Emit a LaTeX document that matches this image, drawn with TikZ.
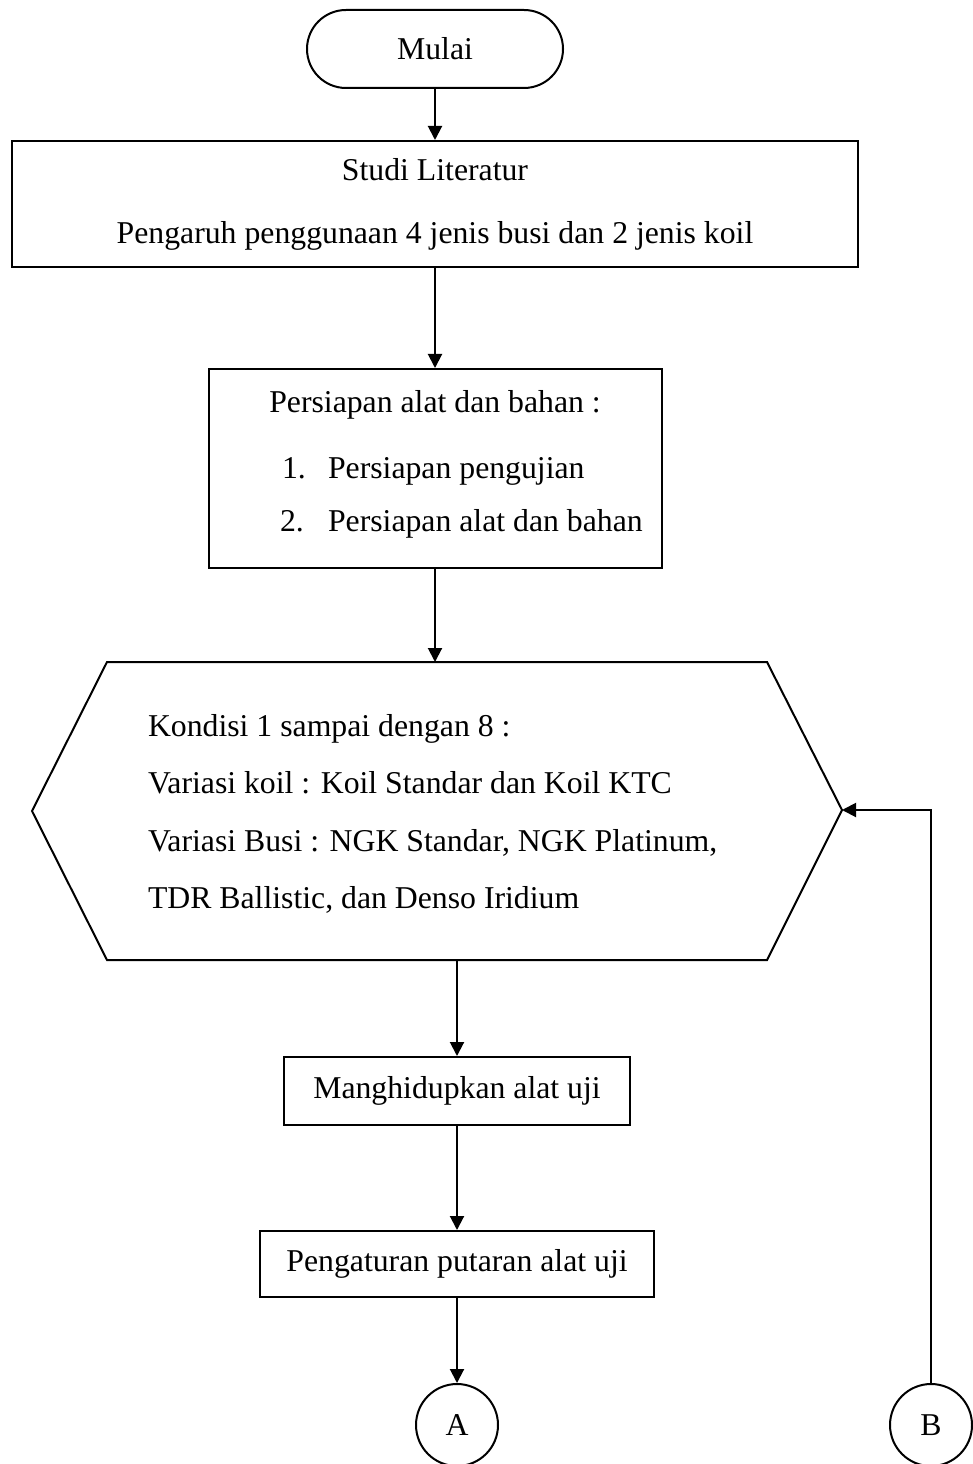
\documentclass[tikz,border=0pt]{standalone}
\usepackage{fontspec}
\setmainfont{Liberation Serif}
\usetikzlibrary{arrows.meta}
\begin{document}
\begin{tikzpicture}[x=0.4pt,y=-0.4pt,
  line width=0.8pt,
  txt/.style={font=\fontsize{12.7}{15}\selectfont, inner sep=0pt},
  box/.style={draw, rectangle, inner sep=0pt, font=\fontsize{12.7}{15}\selectfont},
  terminal/.style={box, rounded corners=15.6pt},
  connector/.style={circle, draw, minimum size=32.8pt, inner sep=0pt, font=\fontsize{12.7}{15}\selectfont},
  flow/.style={-{Triangle[length=5.6pt,width=5.6pt]}}
]
\useasboundingbox (0,0) rectangle (972,1464);

% start terminal
\node[terminal, minimum width=102.4pt, minimum height=31.2pt] (mulai) at (435,49) {Mulai};

% literature study
\node[box, minimum width=338pt, minimum height=50.4pt] (studi) at (435,204) {};
\node[txt, anchor=base] (studiA) at (435,181) {Studi Literatur};
\node[txt, anchor=base] (studiB) at (435,244) {Pengaruh penggunaan 4 jenis busi dan 2 jenis koil};

% preparation
\node[box, minimum width=181.2pt, minimum height=79.6pt] (prep) at (435,468.5) {};
\node[txt, anchor=base] (prepT) at (435,412) {Persiapan alat dan bahan :};
\node[txt, anchor=base west] (prepN1) at (281,478) {1.};
\node[txt, anchor=base west] (prepI1) at (327,478) {Persiapan pengujian};
\node[txt, anchor=base west] (prepN2) at (279,531) {2.};
\node[txt, anchor=base west] (prepI2) at (327,531) {Persiapan alat dan bahan};

% hexagon with the test conditions
\draw (107,662) -- (767,662) -- (842,810) -- (767,960) -- (107,960) -- (32,811) -- cycle;
\coordinate (hexN) at (435,662);
\coordinate (hexS) at (457,960);
\coordinate (hexE) at (842,810);
\node[txt, anchor=base west] (k1) at (147,736) {Kondisi 1 sampai dengan 8 :};
\node[txt, anchor=base west] (k2) at (147,793) {Variasi koil : Koil Standar dan Koil KTC};
\node[txt, anchor=base west] (k3) at (147,851) {Variasi Busi : NGK Standar, NGK Platinum,};
\node[txt, anchor=base west] (k4) at (147,908) {TDR Ballistic, dan Denso Iridium};

% process steps
\node[box, minimum width=138.4pt, minimum height=27.2pt] (mang) at (457,1091) {Manghidupkan alat uji};
\node[box, minimum width=157.6pt, minimum height=26.4pt] (peng) at (457,1264) {Pengaturan putaran alat uji};

% off-page connectors
\node[connector] (A) at (457,1425) {A};
\node[connector] (B) at (931,1425) {B};

% flow lines
\draw[flow] (mulai.south) -- (studi.north);
\draw[flow] (studi.south) -- (prep.north);
\draw[flow] (prep.south) -- (hexN);
\draw[flow] (hexS) -- (mang.north);
\draw[flow] (mang.south) -- (peng.north);
\draw[flow] (peng.south) -- (A.north);
\draw[flow] (B.north) |- (hexE);
\end{tikzpicture}
\end{document}
